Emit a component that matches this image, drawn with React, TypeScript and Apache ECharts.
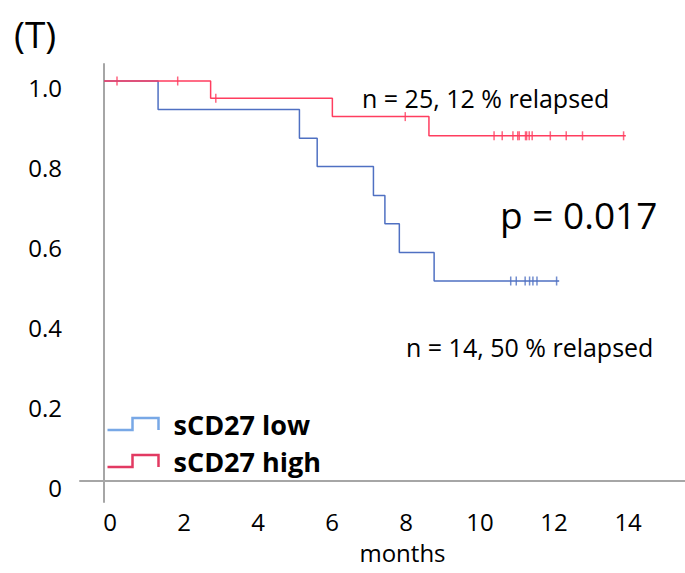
import React, { useEffect, useRef } from "react";
import * as echarts from "echarts";

// ---- data ----
const lowTimes = [0, 1.46, 5.28, 5.76, 7.28, 7.59, 7.98, 8.92, 12.3];
const lowSurv = [1, 0.929, 0.857, 0.786, 0.714, 0.643, 0.571, 0.5, 0.5];
const lowCensorTimes = [10.99, 11.14, 11.38, 11.5, 11.59, 11.7, 12.23];
const lowCensorSurv = [0.5, 0.5, 0.5, 0.5, 0.5, 0.5, 0.5];

const highTimes = [0, 2.88, 6.17, 8.78, 14.1];
const highSurv = [1, 0.957, 0.911, 0.863, 0.863];
const highCensorTimes = [0.35, 1.99, 3.02, 8.14, 10.54, 10.76, 11.05, 11.18, 11.22, 11.39, 11.42, 11.49, 11.57, 12.06, 12.49, 12.93, 14.04];
const highCensorSurv = [1, 1, 0.957, 0.911, 0.863, 0.863, 0.863, 0.863, 0.863, 0.863, 0.863, 0.863, 0.863, 0.863, 0.863, 0.863, 0.863];

const xTicks = [0, 2, 4, 6, 8, 10, 12, 14];
const yTicks = [0, 0.2, 0.4, 0.6, 0.8, 1.0];

const seriesNames = ["sCD27 low", "sCD27 high"];
const annotations = ["n = 25, 12 % relapsed", "n = 14, 50 % relapsed", "p = 0.017"];
const panelLabel = "(T)";
const xAxisName = "months";

const FONT = "'Open Sans', Lato, sans-serif";
const BLUE = "#4f70c2";
const RED = "#ff3d5f";

const zip = (a: number[], b: number[]) => a.map((v, i) => [v, b[i]]);

export default function App() {
  const ref = useRef<HTMLDivElement>(null);
  useEffect(() => {
    if (!ref.current) return;
    const chart = echarts.init(ref.current, null, { renderer: "svg" });
    chart.setOption({
      animation: false,
      backgroundColor: "#ffffff",
      grid: { left: 80, right: 0, top: 64, bottom: 71 },
      xAxis: {
        type: "value",
        min: -0.65,
        max: 15.7,
        splitLine: { show: false },
        axisTick: { show: false },
        axisLine: { lineStyle: { color: "#a6a6a6", width: 2 } },
        axisLabel: {
          customValues: xTicks,
          formatter: (v: number) => String(v),
          color: "#000",
          fontSize: 24,
          lineHeight: 24,
          fontFamily: FONT,
          margin: 7,
          padding: [0, 0, 0, 12],
        },
        name: xAxisName,
        nameLocation: "middle",
        nameGap: 38,
        nameTextStyle: { color: "#000", fontSize: 24, lineHeight: 24, fontFamily: FONT, padding: [0, 0, 0, 40] },
      },
      yAxis: {
        type: "value",
        min: -0.0525,
        max: 1.0425,
        splitLine: { show: false },
        axisTick: { show: false },
        axisLine: { show: true, lineStyle: { color: "#a6a6a6", width: 2 } },
        axisLabel: {
          customValues: yTicks,
          formatter: (v: number) => (v === 0 ? "0" : v.toFixed(1)),
          color: "#000",
          fontSize: 24,
          fontFamily: FONT,
          margin: 18,
          verticalAlign: "top",
          lineHeight: 12,
        },
      },
      legend: {
        orient: "vertical",
        left: 105,
        top: 410,
        padding: 0,
        itemWidth: 51,
        itemHeight: 12,
        itemGap: 9,
        icon: "path://M0,12L25,12L25,0L51,0L51,12",
        itemStyle: { color: "none", borderWidth: 2.5 },
        textStyle: {
          color: "#000",
          fontSize: 27,
          fontWeight: "bold",
          fontFamily: FONT,
          lineHeight: 28,
          padding: [0, 0, 0, 10],
        },
        data: [
          { name: seriesNames[0], itemStyle: { borderColor: "#78a8e6" } },
          { name: seriesNames[1], itemStyle: { borderColor: "#e23a62" } },
        ],
      },
      series: [
        {
          name: seriesNames[0],
          type: "line",
          step: "end",
          symbol: "none",
          data: zip(lowTimes, lowSurv),
          lineStyle: { color: BLUE, width: 1.5 },
          itemStyle: { color: BLUE },
        },
        {
          name: seriesNames[1],
          type: "line",
          step: "end",
          symbol: "none",
          data: zip(highTimes, highSurv),
          lineStyle: { color: RED, width: 1.5 },
          itemStyle: { color: RED },
        },
        {
          name: "low censored",
          type: "scatter",
          symbol: "rect",
          symbolSize: [1.5, 9],
          data: zip(lowCensorTimes, lowCensorSurv),
          itemStyle: { color: BLUE },
        },
        {
          name: "high censored",
          type: "scatter",
          symbol: "rect",
          symbolSize: [1.5, 9],
          data: zip(highCensorTimes, highCensorSurv),
          itemStyle: { color: RED },
        },
      ],
      graphic: [
        {
          type: "text",
          x: 14,
          y: 33,
          style: { text: panelLabel, fontSize: 37, fontFamily: FONT, fill: "#000", verticalAlign: "middle", align: "left" },
        },
        {
          type: "text",
          x: 362,
          y: 98,
          style: { text: annotations[0], fontSize: 25, fontFamily: FONT, fill: "#000", verticalAlign: "middle", align: "left" },
        },
        {
          type: "text",
          x: 406,
          y: 347,
          style: { text: annotations[1], fontSize: 25, fontFamily: FONT, fill: "#000", verticalAlign: "middle", align: "left" },
        },
        {
          type: "text",
          x: 500,
          y: 214,
          style: { text: annotations[2], fontSize: 37, fontFamily: FONT, fill: "#000", verticalAlign: "middle", align: "left" },
        },
      ],
    });
    return () => chart.dispose();
  }, []);
  return (
    <div
      ref={ref}
      style={{ position: "fixed", left: 0, top: 0, width: 685, height: 573, background: "#fff" }}
    />
  );
}
